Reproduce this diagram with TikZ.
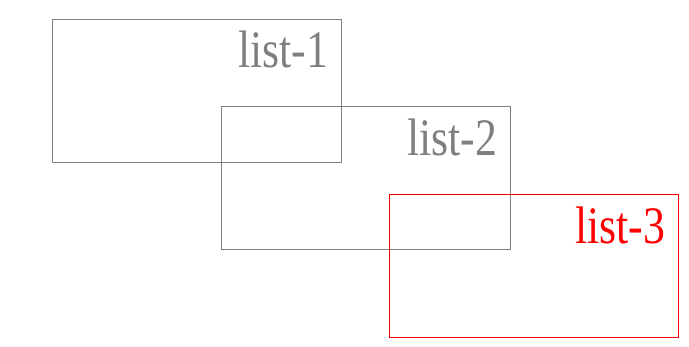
\documentclass[tikz,border=0pt]{standalone}
\usepackage{fontspec}
\setmainfont{Liberation Serif}
\definecolor{listgray}{HTML}{7F7F7F}
\tikzset{
	listbox/.style={draw=#1, line width=0.55pt, minimum width=5.78cm, minimum height=2.86cm, inner sep=0pt},
	listlabel/.style={text=#1, anchor=base east, inner sep=0pt, font=\fontsize{30}{30}\selectfont, xshift=-0.26cm, yshift=-0.98cm}
}
\newcommand{\lname}[1]{\scalebox{0.83}[1]{#1}}
\begin{document}
\begin{tikzpicture}
	\useasboundingbox (0,0) rectangle (13.78,6.92);
	\node[listbox=listgray] (l1) at (3.93,5.11) {};
	\node[listbox=listgray] (l2) at (7.31,3.36) {};
	\node[listbox=red] (l3) at (10.67,1.60) {};
	\node[listlabel=listgray] (t1) at (l1.north east) {\lname{list-1}};
	\node[listlabel=listgray] (t2) at (l2.north east) {\lname{list-2}};
	\node[listlabel=red] (t3) at (l3.north east) {\lname{list-3}};
\end{tikzpicture}
\end{document}
